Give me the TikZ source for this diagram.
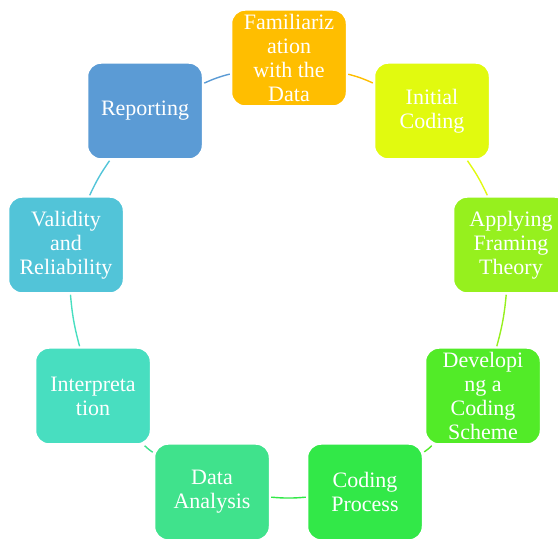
\documentclass[tikz,border=0pt]{standalone}
\usepackage{fontspec}
\setmainfont{Liberation Serif}
\definecolor{cFam}{RGB}{255,190,0}
\definecolor{cInit}{RGB}{225,250,15}
\definecolor{cApp}{RGB}{150,240,30}
\definecolor{cDev}{RGB}{82,235,40}
\definecolor{cProc}{RGB}{50,232,72}
\definecolor{cAna}{RGB}{64,226,140}
\definecolor{cInt}{RGB}{72,222,192}
\definecolor{cVal}{RGB}{82,196,216}
\definecolor{cRep}{RGB}{91,155,213}
\tikzset{
  cyclebox/.style={draw=white, line width=2.5pt, rounded corners=14pt,
    minimum width=116pt, minimum height=97pt, inner sep=2pt, align=center,
    text=white, font=\fontsize{22}{24}\selectfont},
  link/.style={line width=1.4pt, bend left=5}
}
\begin{document}
\begin{tikzpicture}[x=1pt,y=1pt]
\useasboundingbox (0,0) rectangle (558,541);
\clip (0,0) rectangle (558,541);
% nodes
\node[cyclebox, fill=cFam]  (fam)  at (289,483) {Familiariz\\ation\\with the\\Data};
\node[cyclebox, fill=cInit] (init) at (432,430) {Initial\\Coding};
\node[cyclebox, fill=cApp]  (app)  at (511,296) {Applying\\Framing\\Theory};
\node[cyclebox, fill=cDev]  (dev)  at (483,145) {Developi\\ng a\\Coding\\Scheme};
\node[cyclebox, fill=cProc] (proc) at (365,49)  {Coding\\Process};
\node[cyclebox, fill=cAna]  (ana)  at (212,49)  {Data\\Analysis};
\node[cyclebox, fill=cInt]  (int)  at (93,145)  {Interpreta\\tion};
\node[cyclebox, fill=cVal]  (val)  at (66,296)  {Validity\\and\\Reliability};
\node[cyclebox, fill=cRep]  (rep)  at (145,430) {Reporting};
% connectors
\draw[link, cFam]  (fam)  to (init);
\draw[link, cInit] (init) to (app);
\draw[link, cApp]  (app)  to (dev);
\draw[link, cDev]  (dev)  to (proc);
\draw[link, cProc] (proc) to (ana);
\draw[link, cAna]  (ana)  to (int);
\draw[link, cInt]  (int)  to (val);
\draw[link, cVal]  (val)  to (rep);
\draw[link, cRep]  (rep)  to (fam);
\end{tikzpicture}
\end{document}
